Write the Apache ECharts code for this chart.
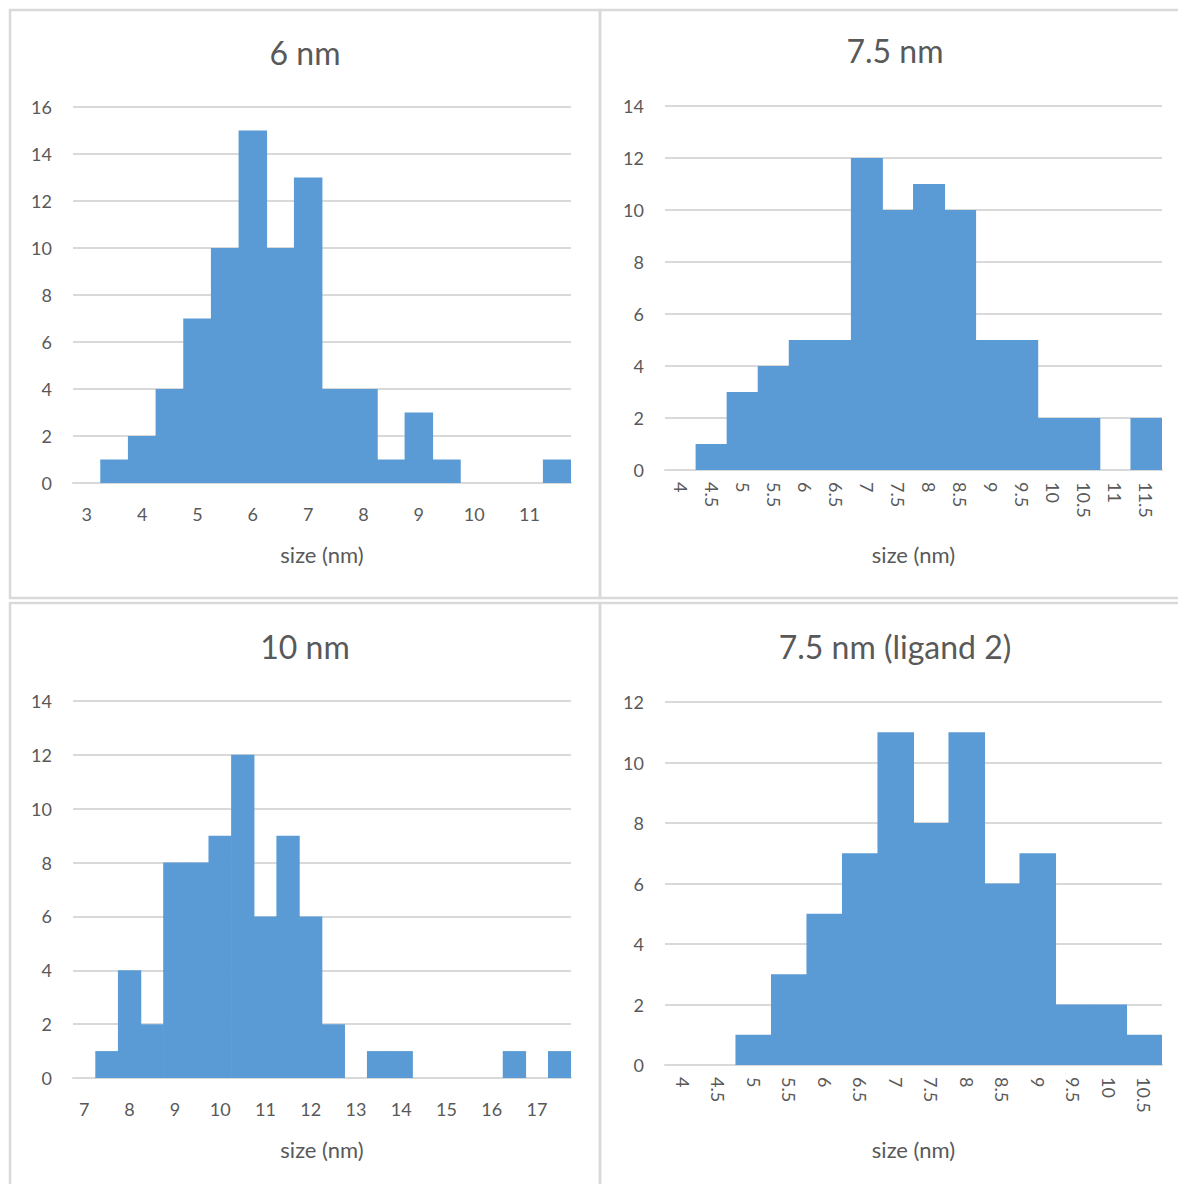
<!DOCTYPE html>
<html>
<head>
<meta charset="utf-8">
<title>Size histograms</title>
<script src="https://cdn.jsdelivr.net/npm/echarts@6/dist/echarts.min.js"></script>
<style>
  html, body { margin: 0; padding: 0; background: #fff; }
  #chart { width: 1178px; height: 1184px; }
</style>
</head>
<body>
<div id="chart"></div>
<script>
// panel 1: 6 nm
const sizes6 = ['3', '3.5', '4', '4.5', '5', '5.5', '6', '6.5', '7', '7.5', '8', '8.5', '9', '9.5', '10', '10.5', '11', '11.5']
const counts6 = [0, 1, 2, 4, 7, 10, 15, 10, 13, 4, 4, 1, 3, 1, 0, 0, 0, 1]

// panel 2: 7.5 nm
const sizes75 = ['4', '4.5', '5', '5.5', '6', '6.5', '7', '7.5', '8', '8.5', '9', '9.5', '10', '10.5', '11', '11.5']
const counts75 = [0, 1, 3, 4, 5, 5, 12, 10, 11, 10, 5, 5, 2, 2, 0, 2]

// panel 3: 10 nm
const sizes10 = ['7', '7.5', '8', '8.5', '9', '9.5', '10', '10.5', '11', '11.5', '12', '12.5', '13', '13.5', '14', '14.5', '15', '15.5', '16', '16.5', '17', '17.5']
const counts10 = [0, 1, 4, 2, 8, 8, 9, 12, 6, 9, 6, 2, 0, 1, 1, 0, 0, 0, 0, 1, 0, 1]

// panel 4: 7.5 nm (ligand 2)
const sizesL2 = ['4', '4.5', '5', '5.5', '6', '6.5', '7', '7.5', '8', '8.5', '9', '9.5', '10', '10.5']
const countsL2 = [0, 0, 1, 3, 5, 7, 11, 8, 11, 6, 7, 2, 2, 1]

const titles = ['6 nm', '7.5 nm', '10 nm', '7.5 nm (ligand 2)']
const yMax = [16, 14, 14, 12]

const FONT = 'Lato, "Open Sans", sans-serif'
const TEXT = '#595959'
const LINE = '#d9d9d9'
const BAR = '#5b9bd5'

const chart = echarts.init(document.getElementById('chart'), null, { renderer: 'svg' })

const grids = [
  { left: 73, top: 107, width: 498, height: 376 },
  { left: 665, top: 106, width: 497, height: 364 },
  { left: 73, top: 701, width: 498, height: 377 },
  { left: 665, top: 702, width: 497, height: 363 }
]
const cats = [sizes6, sizes75, sizes10, sizesL2]
const vals = [counts6, counts75, counts10, countsL2]
const rotated = [false, true, false, true]
const titlePos = [[305, 36], [895, 34], [305, 630], [895, 630]]
const nameGaps = [60, 73, 60, 73]

const xAxes = cats.map((c, i) => ({
  type: 'category',
  gridIndex: i,
  data: c,
  name: 'size (nm)',
  nameLocation: 'middle',
  nameGap: nameGaps[i],
  nameTextStyle: { color: TEXT, fontSize: 22, fontFamily: FONT },
  axisLine: { lineStyle: { color: LINE, width: 2 } },
  axisTick: { show: false },
  axisLabel: rotated[i]
    ? { interval: 0, rotate: -90, margin: 12, color: TEXT, fontSize: 18, fontFamily: FONT }
    : { interval: 1, margin: 22, color: TEXT, fontSize: 18, fontFamily: FONT }
}))

const yAxes = yMax.map((m, i) => ({
  type: 'value',
  gridIndex: i,
  min: 0,
  max: m,
  interval: 2,
  axisLine: { show: false },
  axisTick: { show: false },
  axisLabel: { margin: 21, color: TEXT, fontSize: 18, fontFamily: FONT },
  splitLine: { lineStyle: { color: LINE, width: 2 } }
}))

// bars overlap a hair so that no seam shows between neighbours
const series = vals.map((v, i) => ({
  type: 'bar',
  xAxisIndex: i,
  yAxisIndex: i,
  data: v,
  barCategoryGap: '-3%',
  itemStyle: { color: BAR },
  silent: true
}))

// panel frames
const frames = [
  [10, 10, 590, 588],
  [600, 10, 590, 588],
  [10, 603, 590, 590],
  [600, 603, 590, 590]
].map(r => ({
  type: 'rect',
  shape: { x: r[0], y: r[1], width: r[2], height: r[3] },
  style: { fill: 'none', stroke: LINE, lineWidth: 2.5 },
  silent: true
}))

const titleTexts = titles.map((t, i) => ({
  type: 'text',
  x: titlePos[i][0],
  y: titlePos[i][1],
  style: {
    text: t,
    fill: TEXT,
    font: '32px ' + FONT,
    textAlign: 'center',
    textVerticalAlign: 'top'
  },
  silent: true
}))

chart.setOption({
  backgroundColor: '#fff',
  animation: false,
  grid: grids,
  xAxis: xAxes,
  yAxis: yAxes,
  series: series,
  graphic: frames.concat(titleTexts)
})
</script>
</body>
</html>
